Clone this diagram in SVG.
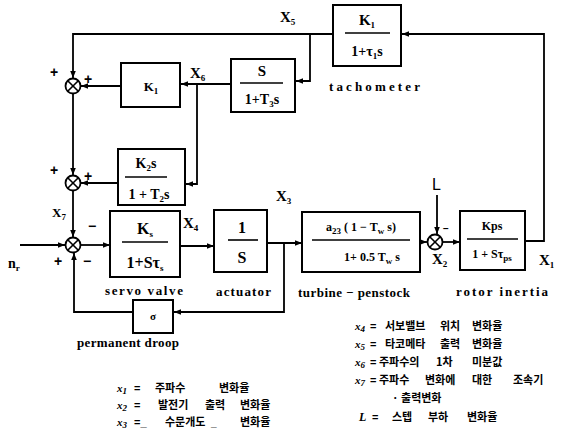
<svg xmlns="http://www.w3.org/2000/svg" width="574" height="441" viewBox="0 0 574 441">
<defs>
<marker id="ah" viewBox="0 0 10 10" refX="10" refY="5" markerWidth="7" markerHeight="7" markerUnits="userSpaceOnUse" orient="auto"><path d="M0,1 L10,5 L0,9 z" fill="#000"/></marker>
</defs>
<style>
.bx{fill:none;stroke:#000;stroke-width:2}
.ar{fill:none;stroke:#000;stroke-width:1.8;marker-end:url(#ah)}
.bar{stroke:#000;stroke-width:1.6}
.sum circle{fill:#fff;stroke:#000;stroke-width:1.8}
.sum path{stroke:#000;stroke-width:1.6}
.t{font-family:"Liberation Serif",serif;font-weight:bold;font-size:14px;fill:#000}
.x{font-family:"Liberation Serif",serif;font-weight:bold;font-size:15px;fill:#000}
.s{font-size:9px}
.lb{font-family:"Liberation Serif",serif;font-weight:bold;font-size:13px;fill:#000}
.sg{font-family:"Liberation Sans",sans-serif;font-weight:bold;font-size:14px;fill:#000}
.kr{font-family:"Noto Sans CJK KR",sans-serif;font-weight:bold;font-size:11px;fill:#000}
.xi{font-family:"Liberation Serif",serif;font-style:italic;font-weight:bold;font-size:11px;fill:#000}
</style>

<g id="connectors">
<path class="ar" d="M333,34 H73 V78"/>
<path class="ar" d="M310,34 V81 H296"/>
<path class="ar" d="M525,241 H544 V34 H402"/>
<path class="ar" d="M231,84 H181"/>
<path class="ar" d="M197,84 V184 H186"/>
<path class="ar" d="M121,86 H81"/>
<path class="ar" d="M73,93.5 V175"/>
<path class="ar" d="M118,183 H81"/>
<path class="ar" d="M73,190.5 V237"/>
<path class="ar" d="M20,245 H65"/>
<path class="ar" d="M81,245 H110"/>
<path class="ar" d="M180,246 H214"/>
<path class="ar" d="M267,243 H302"/>
<path class="ar" d="M284,243 V312 H174"/>
<path class="ar" d="M133,312 H74 V253"/>
<path class="ar" d="M420,242 H427"/>
<path class="ar" d="M437,195 V234"/>
<path class="ar" d="M443,242 H460"/>
</g>

<g id="sum1" class="sum"><circle cx="73" cy="86" r="7.5"/><path d="M67.7,80.7 L78.3,91.3 M78.3,80.7 L67.7,91.3"/></g>
<g id="sum2" class="sum"><circle cx="73" cy="183" r="7.5"/><path d="M67.7,177.7 L78.3,188.3 M78.3,177.7 L67.7,188.3"/></g>
<g id="sum3" class="sum"><circle cx="73" cy="245" r="7.5"/><path d="M67.7,239.7 L78.3,250.3 M78.3,239.7 L67.7,250.3"/></g>
<g id="sum4" class="sum"><circle cx="435" cy="242" r="7.5"/><path d="M429.7,236.7 L440.3,247.3 M440.3,236.7 L429.7,247.3"/></g>

<g id="signs">
<text class="sg" x="50" y="77">+</text>
<text class="sg" x="84" y="84">+</text>
<text class="sg" x="50" y="175">+</text>
<text class="sg" x="84" y="181">+</text>
<text class="sg" x="88" y="231">−</text>
<text class="sg" x="54" y="266">+</text>
<text class="sg" x="83" y="266">−</text>
<text class="sg" x="443" y="232" style="font-size:10px">−</text>
</g>

<g id="tachometer">
<rect class="bx" x="333" y="5" width="68" height="61"/>
<text class="t" x="367" y="25" text-anchor="middle" style="font-size:15px">K<tspan class="s" dy="3">1</tspan></text>
<line class="bar" x1="345" y1="33" x2="390" y2="33"/>
<text class="t" x="367" y="56" text-anchor="middle">1+τ<tspan class="s" dy="3">1</tspan><tspan dy="-3">s</tspan></text>
<text class="lb" x="329" y="91" textLength="91" lengthAdjust="spacing">tachometer</text>
</g>

<g id="k1">
<rect class="bx" x="121" y="63" width="59" height="44"/>
<text class="t" x="151" y="91" text-anchor="middle" style="font-size:13px">K<tspan class="s" dy="3">1</tspan></text>
</g>

<g id="deriv">
<rect class="bx" x="231" y="59" width="64" height="53"/>
<text class="t" x="262" y="76" text-anchor="middle" style="font-size:15px">S</text>
<line class="bar" x1="240" y1="83" x2="283" y2="83"/>
<text class="t" x="262" y="104" text-anchor="middle">1+T<tspan class="s" dy="3">3</tspan><tspan dy="-3">s</tspan></text>
</g>

<g id="k2">
<rect class="bx" x="118" y="149" width="67" height="56"/>
<text class="t" x="146" y="168" text-anchor="middle">K<tspan class="s" dy="3">2</tspan><tspan dy="-3">s</tspan></text>
<line class="bar" x1="125" y1="177" x2="167" y2="177"/>
<text class="t" x="149" y="199" text-anchor="middle">1 + T<tspan class="s" dy="3">2</tspan><tspan dy="-3">s</tspan></text>
</g>

<g id="servo">
<rect class="bx" x="110" y="211" width="70" height="66"/>
<text class="t" x="145" y="234" text-anchor="middle" style="font-size:16px">K<tspan class="s" dy="3">s</tspan></text>
<line class="bar" x1="122" y1="242" x2="168" y2="242"/>
<text class="t" x="145" y="268" text-anchor="middle" style="font-size:16px">1+Sτ<tspan class="s" dy="3">s</tspan></text>
<text class="lb" x="105" y="295" textLength="78" lengthAdjust="spacing">servo valve</text>
</g>

<g id="actuator">
<rect class="bx" x="214" y="210" width="53" height="62"/>
<text class="t" x="242" y="233" text-anchor="middle" style="font-size:16px">1</text>
<line class="bar" x1="228" y1="240" x2="258" y2="240"/>
<text class="t" x="242" y="263" text-anchor="middle" style="font-size:16px">S</text>
<text class="lb" x="216" y="296" textLength="55" lengthAdjust="spacing">actuator</text>
</g>

<g id="turbine">
<rect class="bx" x="302" y="212" width="118" height="60"/>
<text class="t" x="361" y="231" text-anchor="middle" style="font-size:12px">a<tspan class="s" dy="3">23</tspan><tspan dy="-3"> ( 1 − T</tspan><tspan class="s" dy="3">w</tspan><tspan dy="-3"> s)</tspan></text>
<line class="bar" x1="312" y1="240" x2="410" y2="240"/>
<text class="t" x="372" y="261" text-anchor="middle" style="font-size:12px">1+ 0.5 T<tspan class="s" dy="3">w</tspan><tspan dy="-3"> s</tspan></text>
<text class="lb" x="298" y="297" textLength="112" lengthAdjust="spacing">turbine − penstock</text>
</g>

<g id="rotor">
<rect class="bx" x="460" y="211" width="65" height="59"/>
<text class="t" x="492" y="230" text-anchor="middle" style="font-size:12px">Kps</text>
<line class="bar" x1="467" y1="239" x2="518" y2="239"/>
<text class="t" x="492" y="258" text-anchor="middle" style="font-size:12px">1 + Sτ<tspan class="s" dy="3">ps</tspan></text>
<text class="lb" x="456" y="296" textLength="92" lengthAdjust="spacing">rotor inertia</text>
</g>

<g id="droop">
<rect class="bx" x="133" y="300" width="40" height="33"/>
<text class="t" x="153" y="320" text-anchor="middle" style="font-size:11px">σ</text>
<text class="lb" x="77" y="347" textLength="102" lengthAdjust="spacing">permanent droop</text>
</g>

<g id="signal-labels">
<text class="x" x="280" y="22">X<tspan class="s" dy="3">5</tspan></text>
<text class="x" x="190" y="78">X<tspan class="s" dy="3">6</tspan></text>
<text class="x" x="52" y="217" style="font-size:13px">X<tspan class="s" dy="3">7</tspan></text>
<text class="x" x="183" y="228">X<tspan class="s" dy="3">4</tspan></text>
<text class="x" x="276" y="201">X<tspan class="s" dy="3">3</tspan></text>
<text class="x" x="432" y="264">X<tspan class="s" dy="3">2</tspan></text>
<text class="x" x="539" y="265">X<tspan class="s" dy="3">1</tspan></text>
<text class="x" x="8" y="268" style="font-size:14px">n<tspan class="s" dy="3">r</tspan></text>
<text class="x" x="432" y="190" style="font-family:'Liberation Sans',sans-serif;font-weight:normal;font-size:16px">L</text>
</g>

<g id="legend">
<text class="xi" x="117" y="392">x<tspan class="s" dy="2">1</tspan></text>
<text class="sg" x="134" y="392" style="font-size:11px">=</text>
<text class="kr" y="392"><tspan x="155">주파수</tspan><tspan x="219">변화율</tspan></text>
<text class="xi" x="117" y="409">x<tspan class="s" dy="2">2</tspan></text>
<text class="sg" x="134" y="409" style="font-size:11px">=</text>
<text class="kr" y="409"><tspan x="158">발전기</tspan><tspan x="205">출력</tspan><tspan x="240">변화율</tspan></text>
<text class="xi" x="117" y="426">x<tspan class="s" dy="2">3</tspan></text>
<text class="sg" x="134" y="426" style="font-size:11px">=_</text>
<text class="kr" y="426"><tspan x="165">수문개도</tspan><tspan x="240">변화율</tspan></text>
<text class="sg" x="211" y="426" style="font-size:10px">_</text>

<text class="xi" x="355" y="330">x<tspan class="s" dy="2">4</tspan></text>
<text class="sg" x="370" y="330" style="font-size:11px">=</text>
<text class="kr" y="330"><tspan x="385">서보밸브</tspan><tspan x="440">위치</tspan><tspan x="472">변화율</tspan></text>
<text class="xi" x="355" y="348">x<tspan class="s" dy="2">5</tspan></text>
<text class="sg" x="370" y="348" style="font-size:11px">=</text>
<text class="kr" y="348"><tspan x="385">타코메타</tspan><tspan x="440">출력</tspan><tspan x="472">변화율</tspan></text>
<text class="xi" x="355" y="366">x<tspan class="s" dy="2">6</tspan></text>
<text class="sg" x="370" y="366" style="font-size:11px">=</text>
<text class="kr" y="366"><tspan x="379">주파수의</tspan><tspan x="436">1차</tspan><tspan x="472">미분값</tspan></text>
<text class="xi" x="355" y="384">x<tspan class="s" dy="2">7</tspan></text>
<text class="sg" x="370" y="384" style="font-size:11px">=</text>
<text class="kr" y="384"><tspan x="379">주파수</tspan><tspan x="425">변화에</tspan><tspan x="472">대한</tspan><tspan x="513">조속기</tspan></text>
<text class="kr" x="392" y="402">· 출력변화</text>
<text class="xi" x="359" y="421" style="font-size:12px">L</text>
<text class="sg" x="372" y="421" style="font-size:11px">=</text>
<text class="kr" y="421"><tspan x="392">스텝</tspan><tspan x="428">부하</tspan><tspan x="467">변화율</tspan></text>
</g>
</svg>
